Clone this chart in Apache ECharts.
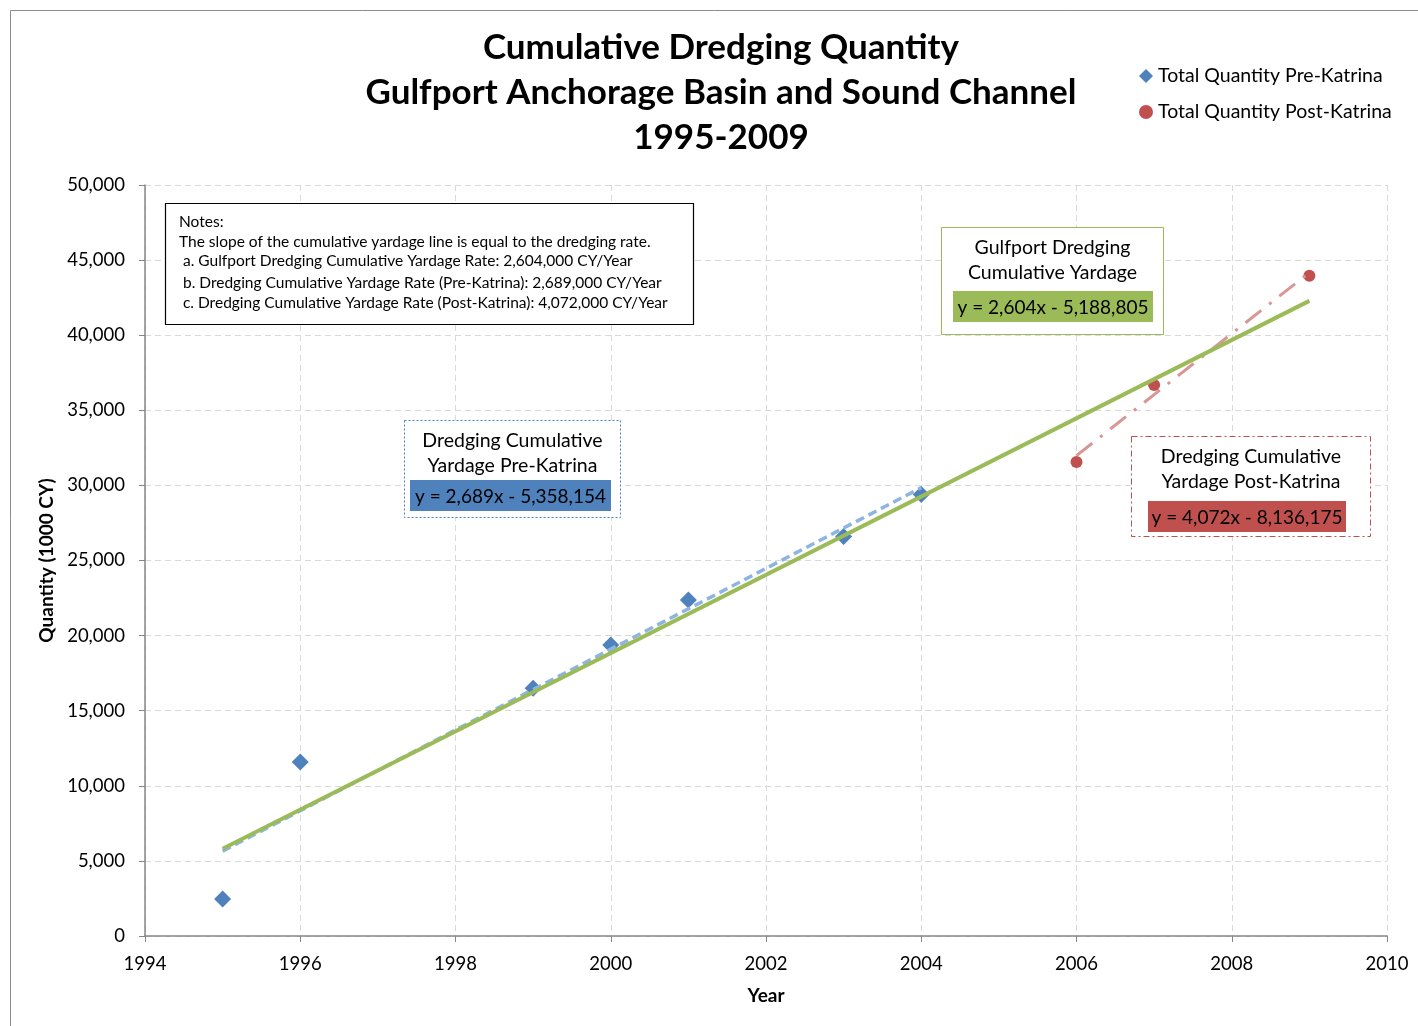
<!DOCTYPE html>
<html>
<head>
<meta charset="utf-8">
<title>Cumulative Dredging Quantity</title>
<script src="https://cdn.jsdelivr.net/npm/echarts@6/dist/echarts.min.js"></script>
<style>
  html, body { margin: 0; padding: 0; background: #fff; }
  #chart { width: 1418px; height: 1026px; }
</style>
</head>
<body>
<div id="chart"></div>
<script>
// Cumulative dredged quantity (1000 CY) by year
const preYears = [1995, 1996, 1999, 2000, 2001, 2003, 2004];
const preQuantity = [2460, 11580, 16500, 19370, 22370, 26600, 29400];
const postYears = [2006, 2007, 2009];
const postQuantity = [31560, 36680, 43960];

const xTicks = [1994, 1996, 1998, 2000, 2002, 2004, 2006, 2008, 2010];
const yTicks = [0, 5000, 10000, 15000, 20000, 25000, 30000, 35000, 40000, 45000, 50000];

const titleLines = [
  'Cumulative Dredging Quantity',
  'Gulfport Anchorage Basin and Sound Channel',
  '1995-2009'
];
const noteLines = [
  'Notes:',
  'The slope of the cumulative yardage line is equal to the dredging rate.',
  ' a. Gulfport Dredging Cumulative Yardage Rate: 2,604,000 CY/Year',
  ' b. Dredging Cumulative Yardage Rate (Pre-Katrina): 2,689,000 CY/Year',
  ' c. Dredging Cumulative Yardage Rate (Post-Katrina): 4,072,000 CY/Year'
];
const totalLabel = ['Gulfport Dredging', 'Cumulative Yardage', 'y = 2,604x - 5,188,805'];
const preLabel = ['Dredging Cumulative', 'Yardage Pre-Katrina', 'y = 2,689x - 5,358,154'];
const postLabel = ['Dredging Cumulative', 'Yardage Post-Katrina', 'y = 4,072x - 8,136,175'];

// Least-squares linear trend between the first and last year of a set
function trendLine(xs, ys) {
  const n = xs.length;
  const mx = xs.reduce((s, v) => s + v, 0) / n;
  const my = ys.reduce((s, v) => s + v, 0) / n;
  let sxy = 0, sxx = 0;
  for (let i = 0; i < n; i++) {
    sxy += (xs[i] - mx) * (ys[i] - my);
    sxx += (xs[i] - mx) * (xs[i] - mx);
  }
  const slope = sxy / sxx;
  const icpt = my - slope * mx;
  const x0 = Math.min(...xs), x1 = Math.max(...xs);
  return [[x0, slope * x0 + icpt], [x1, slope * x1 + icpt]];
}

const allYears = preYears.concat(postYears);
const allQuantity = preQuantity.concat(postQuantity);

const FONT = 'Lato, "Open Sans", sans-serif';
const BLUE = '#4F81BD', RED = '#C0504D', GREEN = '#9BBB59';

function zip(xs, ys) { return xs.map((x, i) => [x, ys[i]]); }

function textEl(str, x, y, size, opts) {
  return {
    type: 'text',
    z: 100,
    style: {
      text: str, x: x, y: y,
      font: (opts && opts.weight ? opts.weight + ' ' : '') + size + 'px ' + FONT,
      fill: '#000',
      textAlign: (opts && opts.align) || 'center',
      textVerticalAlign: 'middle'
    }
  };
}

function labelBox(lines, box, fillBox, color, dash) {
  return [
    { type: 'rect', z: 90,
      shape: { x: box[0], y: box[1], width: box[2], height: box[3] },
      style: { fill: '#fff', stroke: color, lineWidth: 1, lineDash: dash } },
    textEl(lines[0], box[0] + box[2] / 2, box[1] + 20, 19.5),
    textEl(lines[1], box[0] + box[2] / 2, box[1] + 45, 19.5),
    { type: 'rect', z: 95,
      shape: { x: fillBox[0], y: fillBox[1], width: fillBox[2], height: fillBox[3] },
      style: { fill: color } },
    textEl(lines[2], fillBox[0] + fillBox[2] / 2, fillBox[1] + fillBox[3] / 2 + 1, 19)
  ];
}

const graphics = [
  { type: 'rect', z: -10, silent: true,
    shape: { x: 10.5, y: 10.5, width: 1440, height: 1040 },
    style: { fill: 'none', stroke: '#8c8c8c', lineWidth: 1 } },
  textEl(titleLines[0], 721, 48, 35, { weight: 'bold' }),
  textEl(titleLines[1], 721, 93, 35, { weight: 'bold' }),
  textEl(titleLines[2], 721, 138, 35, { weight: 'bold' }),
  { type: 'rect', z: 90,
    shape: { x: 165.5, y: 203.5, width: 528, height: 121 },
    style: { fill: '#fff', stroke: '#000', lineWidth: 1.2 } },
  textEl(noteLines[0], 179, 222, 15.5, { align: 'left' }),
  textEl(noteLines[1], 179, 242, 15.5, { align: 'left' }),
  textEl(noteLines[2], 179, 261, 15.5, { align: 'left' }),
  textEl(noteLines[3], 179, 283, 15.5, { align: 'left' }),
  textEl(noteLines[4], 179, 303, 15.5, { align: 'left' })
].concat(
  labelBox(totalLabel, [941.5, 227.5, 222, 107], [953, 291, 200, 31], GREEN, null),
  labelBox(preLabel, [404.5, 420.5, 216, 97], [410, 480, 201, 31], BLUE, [2, 2]),
  labelBox(postLabel, [1131.5, 436.5, 239, 100], [1148, 501, 198, 31], RED, [6, 3, 2, 3])
);

const chart = echarts.init(document.getElementById('chart'));
chart.setOption({
  animation: false,
  backgroundColor: '#fff',
  textStyle: { fontFamily: FONT },
  grid: { left: 145, right: 31, top: 185, bottom: 90 },
  legend: {
    data: ['Total Quantity Pre-Katrina', 'Total Quantity Post-Katrina'],
    orient: 'vertical',
    left: 1134, top: 61,
    itemWidth: 14, itemHeight: 14, itemGap: 16,
    textStyle: { fontSize: 19.5, color: '#000', fontFamily: FONT },
    selectedMode: false
  },
  xAxis: {
    type: 'value', min: xTicks[0], max: xTicks[xTicks.length - 1], interval: 2,
    name: 'Year', nameLocation: 'middle', nameGap: 50,
    nameTextStyle: { fontSize: 19, fontWeight: 'bold', color: '#000', fontFamily: FONT },
    axisLine: { lineStyle: { color: '#868686', width: 1.5 } },
    axisTick: { show: true, length: 6, lineStyle: { color: '#868686' } },
    axisLabel: { fontSize: 18.5, color: '#000', margin: 19, fontFamily: FONT,
      formatter: v => String(v) },
    splitLine: { show: true, lineStyle: { color: '#d9d9d9', type: [6, 4] } }
  },
  yAxis: {
    type: 'value', min: yTicks[0], max: yTicks[yTicks.length - 1], interval: 5000,
    name: 'Quantity (1000 CY)', nameLocation: 'middle', nameGap: 88,
    nameTextStyle: { fontSize: 19, fontWeight: 'bold', color: '#000', fontFamily: FONT },
    axisLine: { show: true, lineStyle: { color: '#868686', width: 1.5 } },
    axisTick: { show: true, length: 6, lineStyle: { color: '#868686' } },
    axisLabel: { fontSize: 18.5, color: '#000', margin: 20, fontFamily: FONT,
      formatter: v => v.toLocaleString('en-US') },
    splitLine: { show: true, lineStyle: { color: '#d9d9d9', type: [6, 4] } }
  },
  series: [
    { name: 'Total Quantity Pre-Katrina', type: 'scatter', symbol: 'diamond',
      symbolSize: 17, itemStyle: { color: BLUE, opacity: 1 },
      data: zip(preYears, preQuantity), z: 3 },
    { name: 'Total Quantity Post-Katrina', type: 'scatter', symbol: 'circle',
      symbolSize: 12, itemStyle: { color: RED, opacity: 1 },
      data: zip(postYears, postQuantity), z: 3 },
    { name: 'Pre-Katrina trend', type: 'line', showSymbol: false, symbol: 'none',
      lineStyle: { color: '#8EB4E3', width: 3.5, type: [9, 5] },
      data: trendLine(preYears, preQuantity), z: 4 },
    { name: 'Post-Katrina trend', type: 'line', showSymbol: false, symbol: 'none',
      lineStyle: { color: '#D99694', width: 3, type: [20, 10, 3, 10] },
      data: trendLine(postYears, postQuantity), z: 4 },
    { name: 'Total trend', type: 'line', showSymbol: false, symbol: 'none',
      lineStyle: { color: GREEN, width: 4 },
      data: trendLine(allYears, allQuantity), z: 5 }
  ],
  graphic: graphics
});
</script>
</body>
</html>
